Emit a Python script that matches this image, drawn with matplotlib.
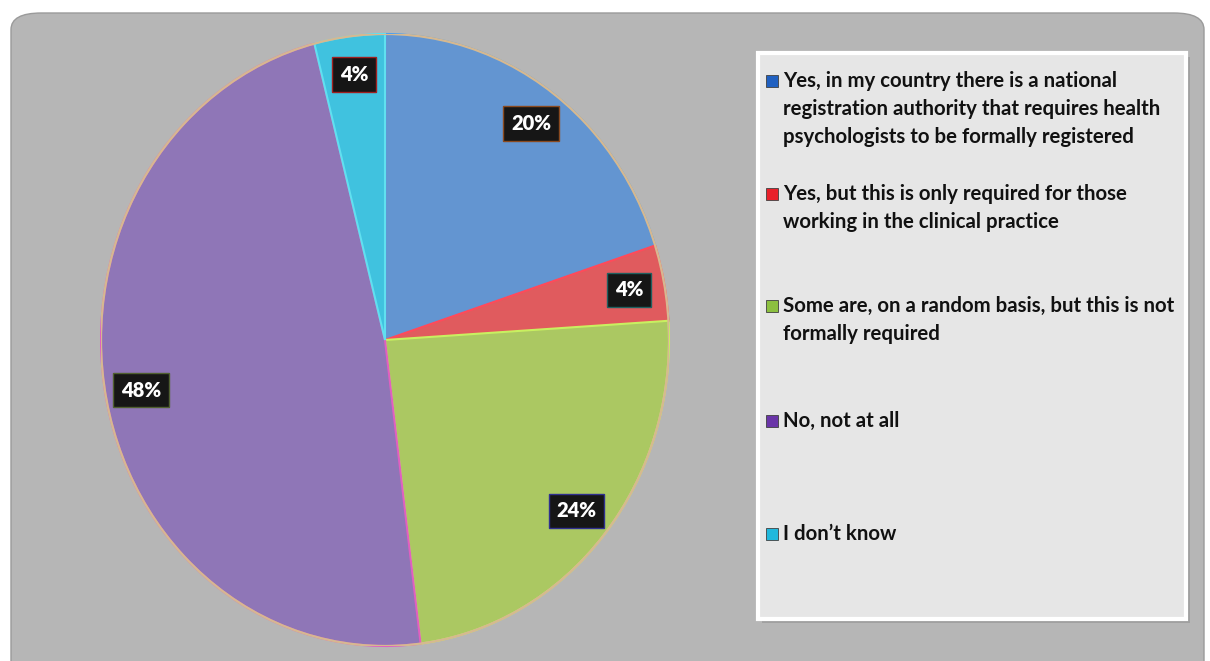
import matplotlib
matplotlib.use("Agg")
import matplotlib.pyplot as plt
from matplotlib.patches import FancyBboxPatch, Rectangle, Ellipse

categories = [
    "Yes, in my country there is a national\nregistration authority that requires health\npsychologists to be formally registered",
    "Yes, but this is only required for those\nworking in the clinical practice",
    "Some are, on a random basis, but this is not\nformally required",
    "No, not at all",
    "I don\u2019t know",
]
values = [20, 4, 24, 48, 4]
slice_colors = ["#6395d1", "#e05b5e", "#abc862", "#8f76b7", "#40c2df"]
edge_colors = ["#4aa0f0", "#ff4a5a", "#c8f060", "#e060c0", "#60e0f0"]
marker_colors = ["#2060c0", "#e8202a", "#8cc040", "#6a35a8", "#20b8dc"]
label_edges = ["#8a4a20", "#206060", "#303090", "#506030", "#a02020"]

W, H = 1210, 661
fig = plt.figure(figsize=(W / 100, H / 100), dpi=100)
fig.patch.set_facecolor("white")

def fx(px):
    return px / W

def fy(py):
    return 1 - py / H

# gray rounded panel
panel = FancyBboxPatch((fx(11), fy(700)), fx(1204) - fx(11), fy(13) - fy(700),
                       boxstyle="round,pad=0,rounding_size=0.025",
                       transform=fig.transFigure, facecolor="#b6b6b6",
                       edgecolor="#9a9a9a", linewidth=1.0, zorder=-10)
fig.patches.append(panel)

# pie axes (ellipse)
cx, cy, rx, ry = 385, 340, 284, 306
ax = fig.add_axes([fx(cx - rx), fy(cy + ry), fx(2 * rx), fy(cy - ry) - fy(cy + ry)])
ax.set_zorder(5)
ax.patch.set_visible(False)
wedges, texts, autotexts = ax.pie(
    values, colors=slice_colors, startangle=90, counterclock=False,
    autopct=lambda p: f"{p:.0f}%", pctdistance=0.875, radius=1.0,
    wedgeprops=dict(linewidth=1.5),
    textprops=dict(color="white", fontsize=14.5, fontweight="heavy", family="Lato"),
)
for w, ec in zip(wedges, edge_colors):
    w.set_edgecolor(ec)
ax.set_aspect("auto")
ax.set_xlim(-1.0, 1.0)
ax.set_ylim(-1.0, 1.0)
ax.axis("off")
ax.add_patch(Ellipse((0, 0), 2.0, 2.0, fill=False, edgecolor="#d6b890", linewidth=1.6, zorder=5))
for t, ec in zip(autotexts, label_edges):
    t.set_bbox(dict(boxstyle="square,pad=0.38", facecolor="#161616", edgecolor=ec, linewidth=1.0))
    t.set_zorder(6)

# legend box
lx0, ly0, lx1, ly1 = 758, 53, 1186, 619
shadow = Rectangle((fx(lx0 + 4), fy(ly1 + 4)), fx(lx1) - fx(lx0), fy(ly0) - fy(ly1),
                   transform=fig.transFigure, facecolor="#a0a0a0", edgecolor="none", zorder=1)
fig.patches.append(shadow)
lbox = Rectangle((fx(lx0), fy(ly1)), fx(lx1) - fx(lx0), fy(ly0) - fy(ly1),
                 transform=fig.transFigure, facecolor="#e6e6e6", edgecolor="white",
                 linewidth=3, zorder=2)
fig.patches.append(lbox)

entry_baseline = [87, 200, 312, 427, 540]
line_gap = 28
for lab, yb, mc in zip(categories, entry_baseline, marker_colors):
    fig.patches.append(Rectangle((fx(766), fy(yb)), fx(12), fy(0) - fy(12),
                                 transform=fig.transFigure, facecolor=mc,
                                 edgecolor="#404040", linewidth=0.6, zorder=3))
    for i, line in enumerate(lab.split("\n")):
        fig.text(fx(783), fy(yb + i * line_gap), line, ha="left", va="baseline",
                 fontsize=14.7, fontweight="bold", family="Lato", color="#111111",
                 zorder=4, transform=fig.transFigure)

fig.savefig("out.png", dpi=100, facecolor="white")
